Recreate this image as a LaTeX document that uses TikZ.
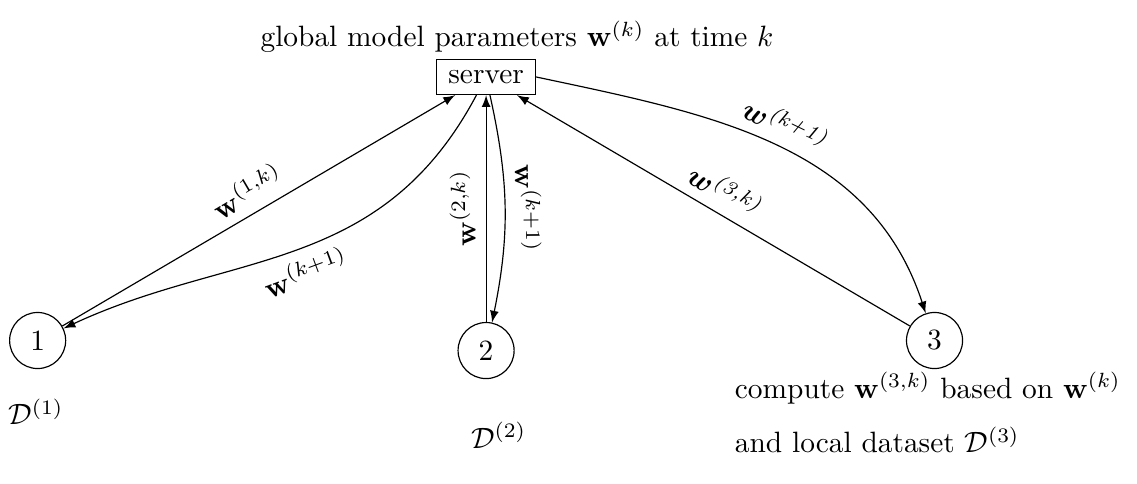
\documentclass[tikz,border=0pt]{standalone}
\usepackage{amsmath}
\usepackage{tikz}
\usetikzlibrary{arrows}

\begin{document}
\begin{tikzpicture}[>=latex]

\def\xs{5.81}  % x of the server and of device 2
\def\yd{-4.07} % y of the devices 1 and 3

\tikzset{device/.style = {draw, circle, minimum size=0.67cm, inner sep=1pt},
         serverbox/.style = {draw, rectangle, inner xsep=4pt, inner ysep=3.7pt}
        }

\useasboundingbox (0,0) rectangle (13.59,-5.78);

% server and devices
\node[serverbox] (server) at (\xs,-0.92) {server};
\node[device] (n1) at (0.45,\yd) {1};
\node[device] (n2) at (\xs,-4.19) {2};
\node[device] (n3) at (11.17,\yd) {3};

% texts
\node (title) at (6.18,-0.44) {global model parameters $\mathbf{w}^{(k)}$ at time $k$};
\node (d1) at (0.43,-4.92) {$\mathcal{D}^{(1)}$};
\node (d2) at (5.96,-5.20) {$\mathcal{D}^{(2)}$};
\node[anchor=west] (c1) at (8.66,-4.64) {compute $\mathbf{w}^{(3,k)}$ based on $\mathbf{w}^{(k)}$};
\node[anchor=west] (c2) at (8.66,-5.26) {and local dataset $\mathcal{D}^{(3)}$};

% device 1
\draw[->] (n1) -- node[above, sloped] {$\mathbf{w}^{(1,k)}$} (server);
\draw[->] (server) to[out=242, in=25, out looseness=1.1]
    node[below, sloped, pos=0.5] {$\mathbf{w}^{(k+1)}$} (n1);

% device 2
\draw[->] (n2) -- node[above, sloped, allow upside down] {$\mathbf{w}^{(2,k)}$} (server);
\draw[->] (server) to[bend left=12]
    node[above, sloped, allow upside down] {$\mathbf{w}^{(k+1)}$} (n2);

% device 3
\draw[->] (n3) -- node[above, sloped] {$\boldsymbol{w}^{\textit{(3,k)}}$} (server);
\draw[->] (server.east) to[out=-12, in=108]
    node[above, sloped, pos=0.5] {$\boldsymbol{w}^{\textit{(k+1)}}$} (n3);

\end{tikzpicture}
\end{document}
